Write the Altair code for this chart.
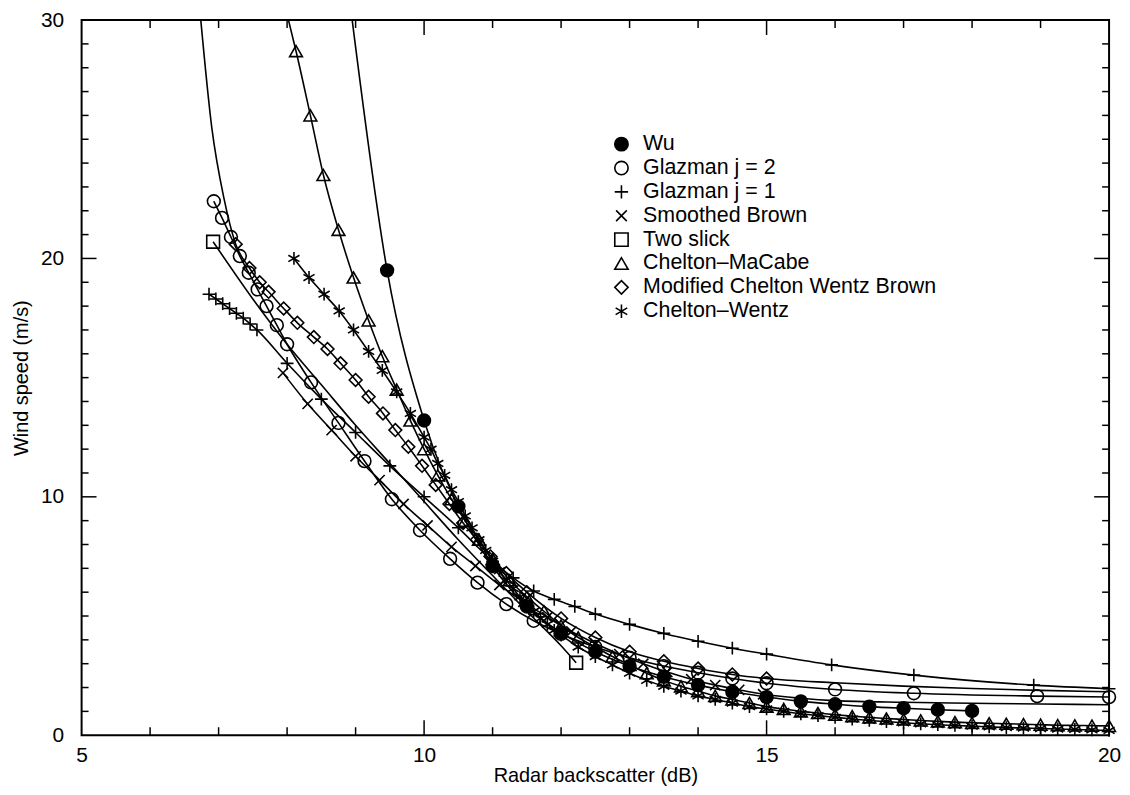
import altair as alt
import pandas as pd

SERIES = ["Wu", "Glazman j = 2", "Glazman j = 1", "Smoothed Brown", "Two slick",
          "Chelton\u2013MaCabe", "Modified Chelton Wentz Brown", "Chelton\u2013Wentz"]

# ---- Wu (filled circles)
wu_line_x = [8.95, 9.46, 10.0, 10.5, 11.0, 11.5, 12.0, 12.5, 13.0, 13.5, 14.0, 14.5, 15.0, 15.5, 16.0, 16.5, 17.0, 17.5, 18.0]
wu_line_y = [30.0, 19.5, 13.2, 9.6, 7.1, 5.4, 4.3, 3.5, 2.9, 2.45, 2.1, 1.82, 1.6, 1.42, 1.3, 1.2, 1.13, 1.07, 1.02]
wu_mark_x = [9.46, 10.0, 10.5, 11.0, 11.5, 12.0, 12.5, 13.0, 13.5, 14.0, 14.5, 15.0, 15.5, 16.0, 16.5, 17.0, 17.5, 18.0]
wu_mark_y = [19.5, 13.2, 9.6, 7.1, 5.4, 4.3, 3.5, 2.9, 2.45, 2.1, 1.82, 1.6, 1.42, 1.3, 1.2, 1.13, 1.07, 1.02]

# ---- Glazman j = 2 (open circles)
g2_x = [6.93, 7.05, 7.18, 7.31, 7.44, 7.57, 7.7, 7.85, 8.0, 8.35, 8.75, 9.13, 9.53, 9.94, 10.38, 10.78, 11.2,
        11.6, 12.0, 12.5, 13.0, 13.5, 14.0, 14.5, 15.0, 16.0, 17.15, 18.95, 20.0]
g2_y = [22.4, 21.7, 20.9, 20.1, 19.4, 18.7, 18.0, 17.2, 16.4, 14.8, 13.1, 11.5, 9.9, 8.6, 7.4, 6.4, 5.5,
        4.8, 4.25, 3.7, 3.25, 2.9, 2.62, 2.38, 2.18, 1.92, 1.76, 1.64, 1.6]

# ---- Glazman j = 1 (plus)
g1_x = [6.86, 6.96, 7.06, 7.16, 7.26, 7.36, 7.46, 7.56, 8.0, 8.5, 9.0, 9.5, 10.0, 10.5, 11.0, 11.3, 11.6,
        11.9, 12.2, 12.5, 13.0, 13.5, 14.0, 14.5, 15.0, 15.95, 17.15, 18.9, 20.0]
g1_y = [18.5, 18.3, 18.1, 17.9, 17.7, 17.5, 17.25, 17.0, 15.6, 14.1, 12.7, 11.3, 10.0, 8.7, 7.3, 6.6, 6.05,
        5.7, 5.4, 5.08, 4.65, 4.27, 3.94, 3.65, 3.4, 2.95, 2.52, 2.1, 1.95]

# ---- Smoothed Brown (x)
sb_line_x = [7.94, 8.3, 8.65, 9.0, 9.35, 9.7, 10.05, 10.4, 10.75, 11.1, 11.45, 11.8, 12.15, 12.5, 12.85, 13.2,
             13.55, 13.9, 14.25, 14.6, 14.95, 15.5, 16.0, 17.0, 18.0, 19.0, 20.0]
sb_line_y = [15.2, 13.9, 12.8, 11.7, 10.7, 9.7, 8.8, 7.9, 7.1, 6.3, 5.6, 4.95, 4.35, 3.85, 3.4, 3.0,
             2.65, 2.35, 2.1, 1.9, 1.72, 1.55, 1.45, 1.38, 1.34, 1.31, 1.28]
sb_mark_x = [7.94, 8.3, 8.65, 9.0, 9.35, 9.7, 10.05, 10.4, 10.75, 11.1, 11.45, 11.8, 12.15, 12.5, 12.85, 13.2,
             13.55, 13.9, 14.25, 14.6, 14.95]
sb_mark_y = [15.2, 13.9, 12.8, 11.7, 10.7, 9.7, 8.8, 7.9, 7.1, 6.3, 5.6, 4.95, 4.35, 3.85, 3.4, 3.0,
             2.65, 2.35, 2.1, 1.9, 1.72]

# ---- Two slick (squares)
ts_line_x = [6.92, 7.5, 8.0, 8.5, 9.0, 9.5, 10.0, 10.5, 11.0, 11.5, 12.0, 12.22]
ts_line_y = [20.7, 18.3, 16.4, 14.7, 13.0, 11.4, 9.8, 8.2, 6.7, 5.2, 3.75, 3.04]
ts_mark_x = [6.92, 12.22]
ts_mark_y = [20.7, 3.04]

# ---- Chelton-MaCabe (triangles)
cm_line_x = [8.02, 8.13, 8.34, 8.53, 8.75, 8.97, 9.19, 9.39, 9.6, 9.8, 10.0, 10.2, 10.4, 10.6, 10.8, 11.0,
             11.25, 11.5, 11.75, 12.0, 12.25, 12.5, 12.75, 13.0, 13.25, 13.5, 13.75, 14.0, 14.25, 14.5, 14.75,
             15.0, 15.25, 15.5, 15.75, 16.0, 16.25, 16.5, 16.75, 17.0, 17.25, 17.5, 17.75, 18.0, 18.25, 18.5,
             18.75, 19.0, 19.25, 19.5, 19.75, 20.0]
cm_line_y = [30.0, 28.7, 26.0, 23.5, 21.2, 19.2, 17.4, 15.9, 14.5, 13.2, 12.0, 10.9, 9.9, 9.0, 8.2, 7.4,
             6.5, 5.8, 5.2, 4.6, 4.1, 3.7, 3.3, 2.95, 2.6, 2.3, 2.05, 1.85, 1.65, 1.5, 1.35,
             1.2, 1.1, 1.0, 0.93, 0.86, 0.8, 0.75, 0.7, 0.66, 0.62, 0.58, 0.55, 0.52, 0.5, 0.48,
             0.46, 0.44, 0.42, 0.41, 0.4, 0.39]
cm_mark_x = cm_line_x[1:]
cm_mark_y = cm_line_y[1:]

# ---- Modified Chelton Wentz Brown (diamonds)
mc_line_x = [6.74, 6.9, 7.08, 7.25, 7.45, 7.6, 7.73, 7.95, 8.15, 8.39, 8.59, 8.78, 9.0, 9.19, 9.4, 9.58, 9.77,
             9.97, 10.17, 10.37, 10.57, 10.77, 10.97, 11.2, 11.5, 12.0, 12.5, 13.0, 13.5, 14.0, 14.5, 15.0,
             16.0, 17.0, 18.0, 19.0, 20.0]
mc_line_y = [30.0, 25.5, 22.5, 20.6, 19.6, 19.0, 18.6, 17.9, 17.3, 16.7, 16.2, 15.6, 14.9, 14.2, 13.5, 12.8, 12.1,
             11.3, 10.5, 9.7, 8.9, 8.2, 7.5, 6.8, 6.0, 4.9, 4.1, 3.5, 3.1, 2.8, 2.55, 2.38,
             2.2, 2.06, 1.96, 1.88, 1.82]
mc_mark_x = [7.25, 7.45, 7.6, 7.73, 7.95, 8.15, 8.39, 8.59, 8.78, 9.0, 9.19, 9.4, 9.58, 9.77,
             9.97, 10.17, 10.37, 10.57, 10.77, 10.97, 11.2, 11.5, 12.0, 12.5, 13.0, 13.5, 14.0, 14.5, 15.0]
mc_mark_y = [20.6, 19.6, 19.0, 18.6, 17.9, 17.3, 16.7, 16.2, 15.6, 14.9, 14.2, 13.5, 12.8, 12.1,
             11.3, 10.5, 9.7, 8.9, 8.2, 7.5, 6.8, 6.0, 4.9, 4.1, 3.5, 3.1, 2.8, 2.55, 2.38]

# ---- Chelton-Wentz (asterisks)
cw_x = [8.1, 8.32, 8.54, 8.76, 8.97, 9.19, 9.39, 9.6, 9.8, 10.0, 10.1, 10.2, 10.3, 10.4, 10.5, 10.6, 10.7, 10.8,
        10.9, 11.0, 11.1, 11.2, 11.3, 11.4, 11.5, 11.6, 11.7, 11.8, 11.9, 12.0, 12.25, 12.5, 12.75, 13.0,
        13.25, 13.5, 13.75, 14.0, 14.25, 14.5, 14.75, 15.0, 15.25, 15.5, 15.75, 16.0, 16.25, 16.5, 16.75,
        17.0, 17.25, 17.5, 17.75, 18.0, 18.25, 18.5, 18.75, 19.0, 19.25, 19.5, 19.75, 20.0]
cw_y = [20.0, 19.2, 18.5, 17.8, 17.0, 16.1, 15.3, 14.4, 13.5, 12.5, 12.0, 11.4, 10.9, 10.3, 9.8, 9.2, 8.7, 8.2,
        7.75, 7.3, 6.9, 6.5, 6.15, 5.8, 5.5, 5.2, 4.9, 4.65, 4.4, 4.2, 3.7, 3.3, 2.95, 2.6,
        2.3, 2.05, 1.85, 1.65, 1.5, 1.35, 1.2, 1.1, 1.0, 0.9, 0.82, 0.75, 0.68, 0.62, 0.57,
        0.52, 0.48, 0.44, 0.41, 0.38, 0.35, 0.32, 0.3, 0.28, 0.26, 0.24, 0.22, 0.2]

# ---- axis ticks
x_labels = [5, 10, 15, 20]
y_labels = [0, 10, 20, 30]
x_major = [10, 15]
x_minor = [6, 7, 8, 9, 11, 12, 13, 14, 16, 17, 18, 19]
y_major = [10, 20]
y_minor = [1, 2, 3, 4, 5, 6, 7, 8, 9, 11, 12, 13, 14, 15, 16, 17, 18, 19, 21, 22, 23, 24, 25, 26, 27, 28, 29]

line_sets = [
    (SERIES[0], wu_line_x, wu_line_y), (SERIES[1], g2_x, g2_y), (SERIES[2], g1_x, g1_y),
    (SERIES[3], sb_line_x, sb_line_y), (SERIES[4], ts_line_x, ts_line_y), (SERIES[5], cm_line_x, cm_line_y),
    (SERIES[6], mc_line_x, mc_line_y), (SERIES[7], cw_x, cw_y),
]
mark_sets = [
    (SERIES[0], wu_mark_x, wu_mark_y), (SERIES[1], g2_x, g2_y), (SERIES[2], g1_x, g1_y),
    (SERIES[3], sb_mark_x, sb_mark_y), (SERIES[4], ts_mark_x, ts_mark_y), (SERIES[5], cm_mark_x, cm_mark_y),
    (SERIES[6], mc_mark_x, mc_mark_y), (SERIES[7], cw_x, cw_y),
]


def frame(sets):
    rows = []
    for name, xs, ys in sets:
        for xv, yv in zip(xs, ys):
            rows.append({"series": name, "x": xv, "y": yv})
    return pd.DataFrame(rows)


line_df = frame(line_sets)
mark_df = frame(mark_sets)

SHAPES = ["circle", "circle", "M-1,0L1,0M0,-1L0,1", "M-0.8,-0.8L0.8,0.8M-0.8,0.8L0.8,-0.8", "square",
          "triangle-up", "diamond", "M0,-1L0,1M-0.87,-0.5L0.87,0.5M-0.87,0.5L0.87,-0.5"]
FILLS = ["black", "transparent", "transparent", "transparent", "transparent", "transparent", "transparent",
         "transparent"]
STROKES = ["black"] * 8

W, H = 1033, 719
FONT = "Liberation Sans"

x_scale = alt.Scale(domain=[5, 20], nice=False, zero=False)
y_scale = alt.Scale(domain=[0, 30], nice=False)

X_AXIS = alt.Axis(values=x_labels, ticks=False, domain=False, grid=False, labelFontSize=21,
                  labelFont=FONT, labelColor="black", labelPadding=9, title="Radar backscatter (dB)",
                  titleFont=FONT, titleFontSize=20, titleFontWeight="normal", titleColor="black",
                  titlePadding=1, labelFlush=False)
Y_AXIS = alt.Axis(values=y_labels, ticks=False, domain=False, grid=False, labelFontSize=21,
                  labelFont=FONT, labelColor="black", labelPadding=18, title="Wind speed (m/s)",
                  titleFont=FONT, titleFontSize=20, titleFontWeight="normal", titleColor="black",
                  titlePadding=9, labelFlush=False)

leg = alt.Legend(orient="none", legendX=532, legendY=114, title=None, labelFont=FONT, labelFontSize=21.5,
                 labelColor="black", symbolStrokeColor="black", symbolStrokeWidth=1.6, symbolSize=180,
                 labelOffset=11, rowPadding=1, padding=0, labelLimit=500)

lines = alt.Chart(line_df).mark_line(color="black", strokeWidth=1.6, interpolate="monotone").encode(
    x=alt.X("x:Q", scale=x_scale, axis=X_AXIS),
    y=alt.Y("y:Q", scale=y_scale, axis=Y_AXIS),
    detail="series:N",
)

points = alt.Chart(mark_df).mark_point(strokeWidth=1.6, opacity=1, size=165).encode(
    x=alt.X("x:Q", scale=x_scale, axis=X_AXIS),
    y=alt.Y("y:Q", scale=y_scale, axis=Y_AXIS),
    shape=alt.Shape("series:N", scale=alt.Scale(domain=SERIES, range=SHAPES), legend=leg, sort=SERIES),
    fill=alt.Fill("series:N", scale=alt.Scale(domain=SERIES, range=FILLS), legend=leg, sort=SERIES),
    stroke=alt.Stroke("series:N", scale=alt.Scale(domain=SERIES, range=STROKES), legend=leg, sort=SERIES),
)


def xticks(vals, length, top):
    base = alt.Chart(pd.DataFrame({"x": vals})).mark_rule(color="black", strokeWidth=1.5)
    xe = alt.X("x:Q", scale=x_scale, axis=X_AXIS)
    if top:
        return base.encode(x=xe, y=alt.value(0), y2=alt.value(length))
    return base.encode(x=xe, y=alt.value(H), y2=alt.value(H - length))


def yticks(vals, length, right):
    base = alt.Chart(pd.DataFrame({"y": vals})).mark_rule(color="black", strokeWidth=1.5)
    ye = alt.Y("y:Q", scale=y_scale, axis=Y_AXIS)
    if right:
        return base.encode(y=ye, x=alt.value(W), x2=alt.value(W - length))
    return base.encode(y=ye, x=alt.value(0), x2=alt.value(length))


ticks = [
    xticks(x_major, 15, False), xticks(x_minor, 8, False), xticks(x_major, 15, True), xticks(x_minor, 8, True),
    yticks(y_major, 15, False), yticks(y_minor, 7, False), yticks(y_major, 15, True), yticks(y_minor, 7, True),
]

chart = alt.layer(lines, points, *ticks).properties(
    width=W, height=H,
    autosize=alt.AutoSizeParams(type="none"),
    padding={"left": 74, "top": 10, "right": 13, "bottom": 60},
    background="white",
).configure_view(stroke="black", strokeWidth=2)

chart.save("out.html", embed_options={"renderer": "svg", "actions": False})
